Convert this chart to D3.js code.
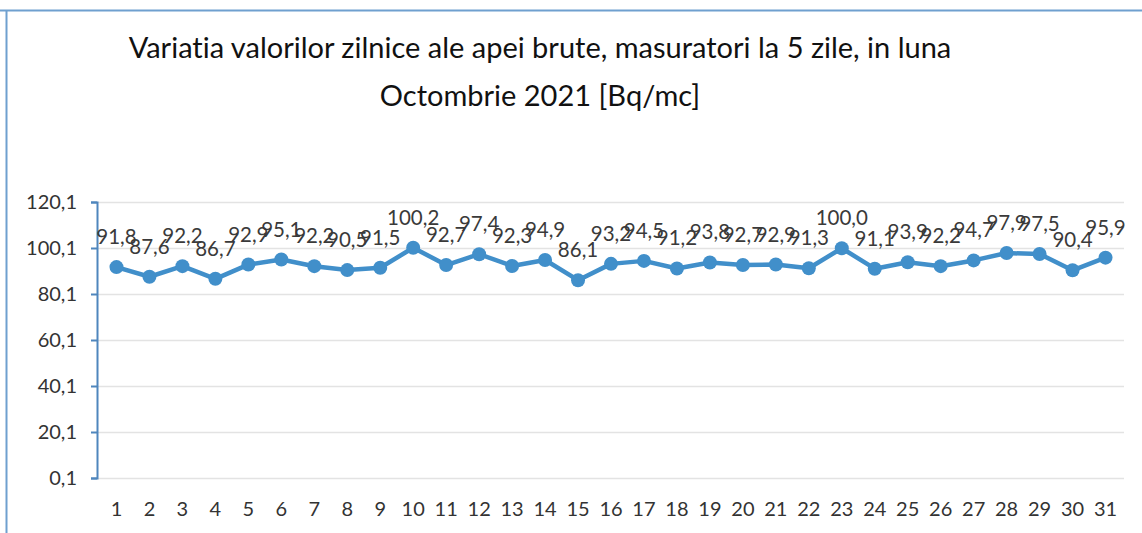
<!DOCTYPE html>
<html>
<head>
<meta charset="utf-8">
<script src="https://cdn.jsdelivr.net/npm/d3@7"></script>
<style>
  html, body { margin: 0; padding: 0; background: #ffffff; }
  svg { display: block; }
  text { font-variant-ligatures: none; }
</style>
</head>
<body>
<svg id="chart" width="1142" height="533"></svg>
<script>
// Days of October 2021 (measurement days)
const days = d3.range(1, 32).map(String);
// Daily values, Bq/mc
const values = [91.8, 87.6, 92.2, 86.7, 92.9, 95.1, 92.2, 90.5, 91.5, 100.2,
                92.7, 97.4, 92.3, 94.9, 86.1, 93.2, 94.5, 91.2, 93.8, 92.7,
                92.9, 91.3, 100.0, 91.1, 93.9, 92.2, 94.7, 97.9, 97.5, 90.4, 95.9];
// Y axis tick values
const yTicks = [0.1, 20.1, 40.1, 60.1, 80.1, 100.1, 120.1];
const titleLines = ["Variatia valorilor zilnice ale apei brute, masuratori la 5 zile,  in luna",
                    "Octombrie 2021 [Bq/mc]"];

const fmt = v => v.toFixed(1).replace(".", ",");
const font = "Lato, Open Sans, sans-serif";
const lineColor = "#418fca";

const svg = d3.select("#chart");

// Frame
svg.append("line").attr("x1", 0).attr("x2", 1142).attr("y1", 10.5).attr("y2", 10.5)
  .attr("stroke", "#6fa0cf").attr("stroke-width", 2);
svg.append("line").attr("x1", 6.5).attr("x2", 6.5).attr("y1", 10).attr("y2", 533)
  .attr("stroke", "#6fa0cf").attr("stroke-width", 2);

const x = d3.scaleBand().domain(days).range([100, 1122]);
const y = d3.scaleLinear().domain([0.1, 120.1]).range([478, 202]);

// Gridlines
svg.append("g").selectAll("line").data(yTicks).join("line")
  .attr("x1", 97).attr("x2", 1124)
  .attr("y1", d => Math.round(y(d)) + 0.5).attr("y2", d => Math.round(y(d)) + 0.5)
  .attr("stroke", "#e3e3e3").attr("stroke-width", 1.5);

// Y axis
const yAxis = svg.append("g").attr("transform", "translate(97,0)")
  .call(d3.axisLeft(y).tickValues(yTicks).tickFormat(fmt).tickSize(6).tickPadding(14));
yAxis.select(".domain").attr("stroke", "#4f86bd").attr("stroke-width", 2);
yAxis.selectAll(".tick line").attr("stroke", "#4f86bd").attr("stroke-width", 2).attr("x2", 0).attr("x1", -6);
yAxis.selectAll(".tick text").attr("font-family", font).attr("font-size", 20).attr("fill", "#333");

// X axis labels
const xAxis = svg.append("g").attr("transform", "translate(0,478)")
  .call(d3.axisBottom(x).tickSize(0).tickPadding(24));
xAxis.select(".domain").remove();
xAxis.selectAll(".tick text").attr("font-family", font).attr("font-size", 20).attr("fill", "#333");

// Title
svg.append("g").selectAll("text").data(titleLines).join("text")
  .attr("x", 540).attr("y", (d, i) => 58 + i * 48)
  .attr("text-anchor", "middle")
  .attr("font-family", font).attr("font-size", 29).attr("fill", "#111")
  .text(d => d);

const cx = d => x(d) + x.bandwidth() / 2;

// Series line
const line = d3.line().x((d, i) => cx(days[i])).y(d => y(d));
svg.append("path").datum(values)
  .attr("fill", "none").attr("stroke", lineColor).attr("stroke-width", 4.5)
  .attr("stroke-linejoin", "round").attr("d", line);

// Markers
svg.append("g").selectAll("circle").data(values).join("circle")
  .attr("cx", (d, i) => cx(days[i])).attr("cy", d => y(d)).attr("r", 7)
  .attr("fill", lineColor);

// Data labels
svg.append("g").selectAll("text").data(values).join("text")
  .attr("x", (d, i) => cx(days[i])).attr("y", d => y(d) - 23)
  .attr("text-anchor", "middle")
  .attr("font-family", font).attr("font-size", 20.5).attr("fill", "#3a3a3a")
  .text(d => fmt(d));
</script>
</body>
</html>
